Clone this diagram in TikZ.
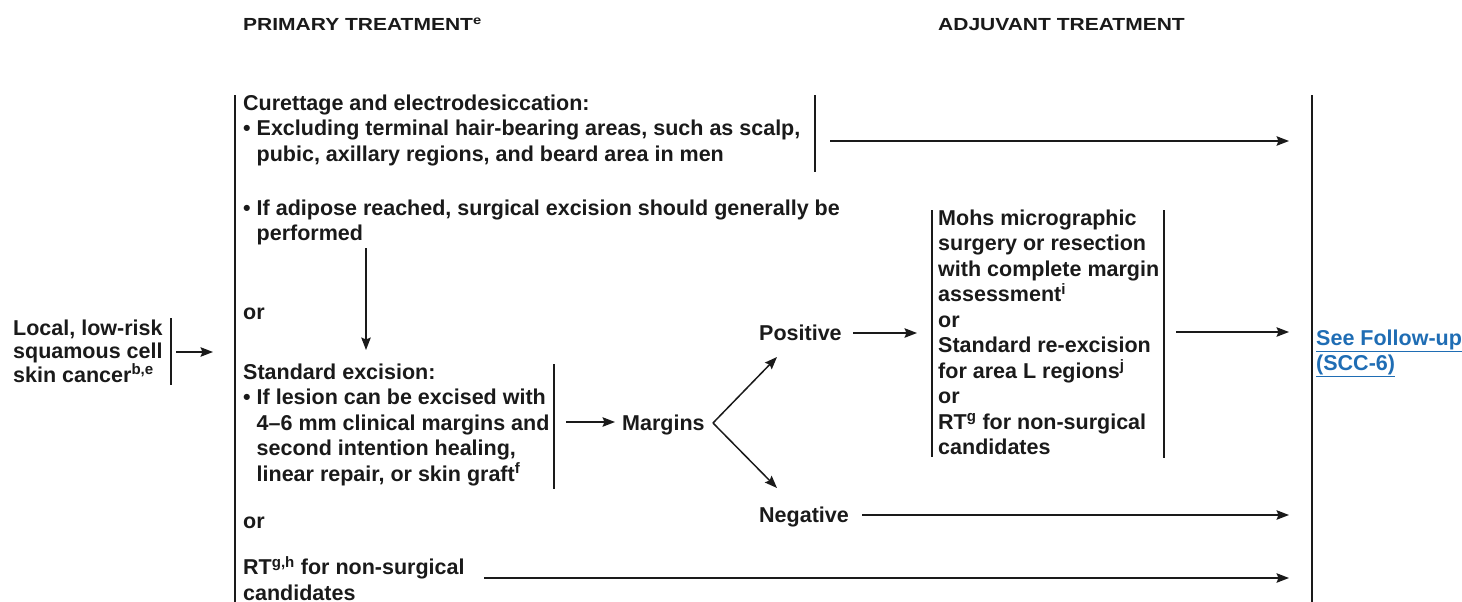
\documentclass[tikz,border=0pt]{standalone}
\usepackage{fontspec}
\setmainfont{Liberation Sans}
\newfontfamily\headfont[FakeStretch=1.2]{Liberation Sans}
\usetikzlibrary{arrows.meta}

\definecolor{ink}{HTML}{1A1A1A}
\definecolor{linkblue}{HTML}{1F6DB4}

\newcommand{\topstrut}{\rule{0pt}{18pt}}
\newcommand{\hang}{\phantom{\textbullet\ }}

\tikzset{
  txt/.style={anchor=north west, inner sep=0pt, align=left, text=ink,
    font=\fontsize{21.5}{25.5}\selectfont\bfseries},
  head/.style={anchor=base west, inner sep=0pt, text=ink,
    font=\headfont\fontsize{17.5}{20}\selectfont\bfseries},
  bar/.style={draw=ink, line width=1.5pt},
  conn/.style={draw=ink, line width=1.5pt,
    -{Stealth[length=12.5pt,width=9.5pt,inset=2pt]}}
}

\begin{document}
\begin{tikzpicture}[x=1pt,y=-1pt]
\useasboundingbox (0,0) rectangle (1462,602);

% column headings
\node[head] (hprim) at (243,31) {PRIMARY TREATMENT\textsuperscript{e}};
\node[head] (hadj)  at (938,31) {ADJUVANT TREATMENT};

% diagnosis
\node[txt, font=\fontsize{21.5}{23.5}\selectfont\bfseries] (dx) at (13,317)
  {\topstrut Local, low-risk\\squamous cell\\skin cancer\textsuperscript{b,e}};
\draw[bar] (171,318) -- (171,385);

% primary treatment column
\draw[bar] (235,95) -- (235,610);
\node[txt] (cur) at (243,92)
  {\topstrut Curettage and electrodesiccation:\\
   \textbullet\ Excluding terminal hair-bearing areas, such as scalp,\\
   \hang pubic, axillary regions, and beard area in men};
\draw[bar] (815,95) -- (815,172);

\node[txt] (adip) at (243,197)
  {\topstrut\textbullet\ If adipose reached, surgical excision should generally be\\
   \hang performed};
\node[txt] (or1) at (243,301) {\topstrut or};

\node[txt] (exc) at (243,361)
  {\topstrut Standard excision:\\
   \textbullet\ If lesion can be excised with\\
   \hang 4--6 mm clinical margins and\\
   \hang second intention healing,\\
   \hang linear repair, or skin graft\textsuperscript{f}};
\draw[bar] (554,364) -- (554,489);

\node[txt] (or2) at (243,510) {\topstrut or};
\node[txt] (rt) at (243,556)
  {\topstrut RT\textsuperscript{g,h} for non-surgical\\candidates};

% margins
\node[txt] (marg) at (622,412) {\topstrut Margins};
\node[txt] (pos)  at (759,322) {\topstrut Positive};
\node[txt] (neg)  at (759,504) {\topstrut Negative};

% adjuvant treatment for positive margins
\node[txt] (mohs) at (938,207)
  {\topstrut Mohs micrographic\\
   surgery or resection\\
   with complete margin\\
   assessment\textsuperscript{i}\\
   or\\
   Standard re-excision\\
   for area L regions\textsuperscript{j}\\
   or\\
   RT\textsuperscript{g} for non-surgical\\
   candidates};
\draw[bar] (932,210) -- (932,457);
\draw[bar] (1164,210) -- (1164,458);

% follow-up column
\draw[bar] (1312,95) -- (1312,610);
\node[txt, text=linkblue] (fu) at (1316,327)
  {\topstrut\underline{See Follow-up}\\\underline{(SCC-6)}};

% connector end points
\coordinate (dxR)   at (176,352);
\coordinate (dxT)   at (213,352);
\coordinate (curR)  at (830,141);
\coordinate (curT)  at (1289,141);
\coordinate (adipB) at (366,248);
\coordinate (excT)  at (366,350);
\coordinate (excR)  at (566,422);
\coordinate (margL) at (615,422);
\coordinate (fork)  at (713,423);
\coordinate (posB)  at (777,357);
\coordinate (negT)  at (777,488);
\coordinate (posR)  at (853,333);
\coordinate (mohsL) at (917,333);
\coordinate (mohsR) at (1176,332);
\coordinate (fuA)   at (1289,332);
\coordinate (negR)  at (862,515);
\coordinate (fuB)   at (1289,515);
\coordinate (rtR)   at (484,578);
\coordinate (fuC)   at (1289,578);

% connectors
\draw[conn] (dxR) -- (dxT);
\draw[conn] (curR) -- (curT);
\draw[conn] (adipB) -- (excT);
\draw[conn] (excR) -- (margL);
\draw[conn] (fork) -- (posB);
\draw[conn] (fork) -- (negT);
\draw[conn] (posR) -- (mohsL);
\draw[conn] (mohsR) -- (fuA);
\draw[conn] (negR) -- (fuB);
\draw[conn] (rtR) -- (fuC);
\end{tikzpicture}
\end{document}
